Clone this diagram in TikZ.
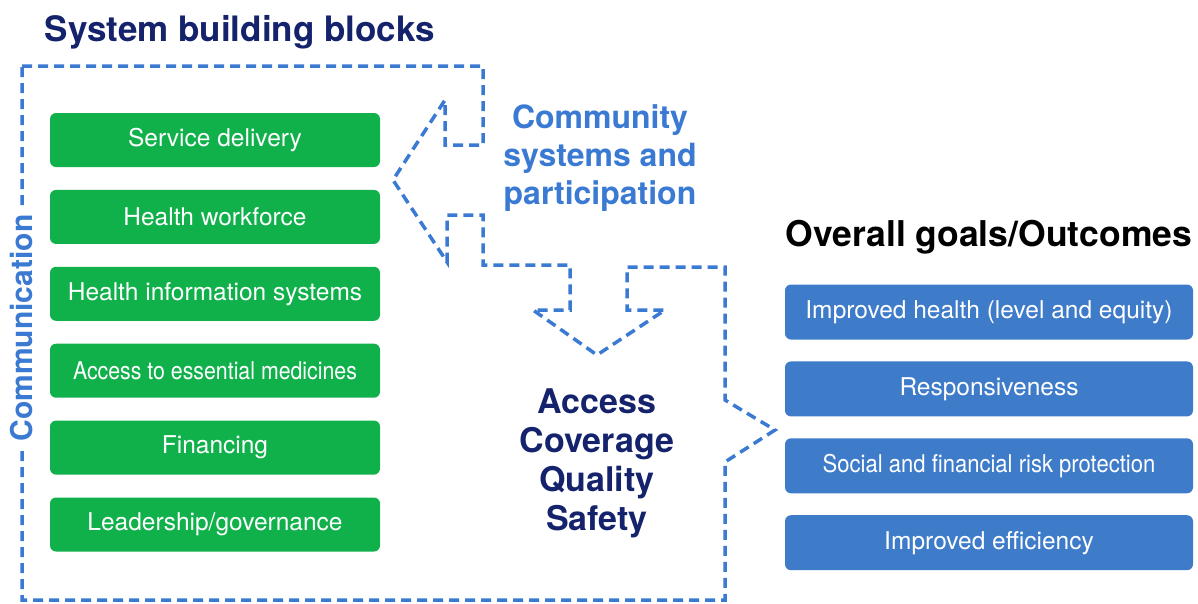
\documentclass[tikz,border=0pt]{standalone}
\usepackage{fontspec}
\setmainfont{TeX Gyre Heros}
\usetikzlibrary{positioning}
\definecolor{navy}{HTML}{14236B}
\definecolor{dashblue}{HTML}{3B7AD2}
\definecolor{boxgreen}{HTML}{10B14B}
\definecolor{boxblue}{HTML}{3E7BC8}

\begin{document}
\begin{tikzpicture}[x=1pt, y=-1pt,
                    gbox/.style={fill=boxgreen, text=white, rounded corners=6pt,
                      minimum width=330pt, minimum height=54pt, inner sep=0pt,
                      font=\fontsize{24.5}{28}\selectfont},
                    bbox/.style={fill=boxblue, text=white, rounded corners=6pt,
                      minimum width=408pt, minimum height=55pt, inner sep=0pt,
                      font=\fontsize{24.5}{28}\selectfont},
                    outline/.style={draw=dashblue, line width=3.5pt,
                      dash pattern=on 10pt off 6pt}]
\useasboundingbox (0,0) rectangle (1198,603);
\draw[outline] (22,66) -- (483,66) -- (483,145) -- (445,145) -- (445,100)
  -- (393,180) -- (447,262) -- (447,215) -- (483,215) -- (483,265)
  -- (570,265) -- (570,310) -- (533,310) -- (597,355) -- (665,310)
  -- (627,310) -- (627,267) -- (725,267) -- (725,400) -- (775,430)
  -- (725,462) -- (725,600) -- (22,600) -- cycle;
\node[text=navy, font=\fontsize{35}{40}\bfseries] (title) at (240,32) {System building blocks};
\node[text=dashblue, font=\fontsize{30}{34}\bfseries, rotate=90, fill=white,
      inner sep=8pt] (comm) at (22,328) {Communication};
\node[gbox] (sd) at (215,140) {Service delivery};
\node[gbox, below=22.5pt of sd] (hw) {Health workforce};
\node[gbox, below=22.5pt of hw] (his) {Health information systems};
\node[gbox, below=22.5pt of his] (med) {\scalebox{0.87}[1]{Access to essential medicines}};
\node[gbox, below=22.5pt of med] (fin) {Financing};
\node[gbox, below=22.5pt of fin] (lead) {Leadership/governance};
\node[text=dashblue, font=\fontsize{32}{38}\bfseries, align=center] (csp) at (600,158)
  {Community\\systems and\\participation};
\node[text=navy, font=\fontsize{34}{39}\bfseries, align=center] (acqs) at (597,463)
  {Access\\Coverage\\Quality\\Safety};
\node[font=\fontsize{35.5}{40}\bfseries] (goals) at (989,237) {Overall goals/Outcomes};
\node[bbox] (ih) at (989,312) {Improved health (level and equity)};
\node[bbox, below=21.5pt of ih] (resp) {Responsiveness};
\node[bbox, below=21.5pt of resp] (risk) {\scalebox{0.9}[1]{Social and financial risk protection}};
\node[bbox, below=21.5pt of risk] (eff) {Improved efficiency};
\end{tikzpicture}
\end{document}
